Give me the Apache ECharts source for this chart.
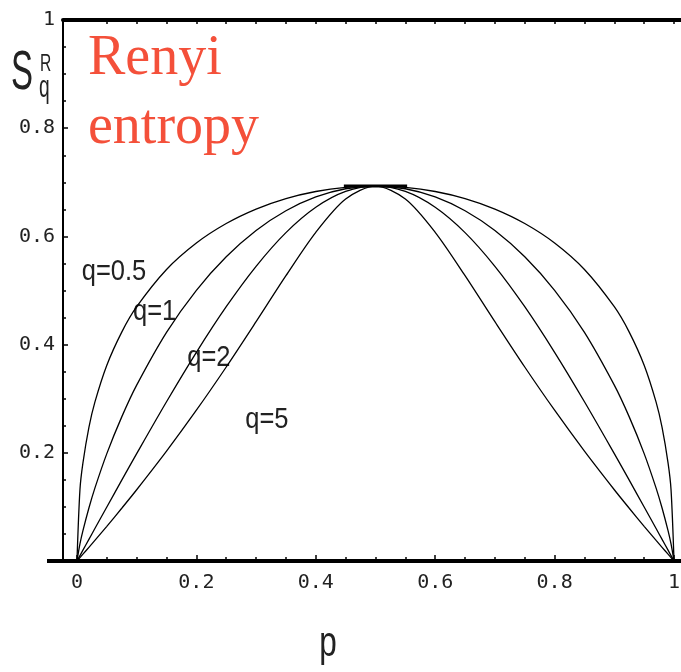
<!DOCTYPE html>
<html>
<head>
<meta charset="utf-8">
<script src="https://cdn.jsdelivr.net/npm/echarts@6/dist/echarts.min.js"></script>
<style>
  html, body { margin: 0; padding: 0; background: #fff; }
  #container { width: 681px; height: 672px; }
</style>
</head>
<body>
<div id="container"></div>
<script>
// p values (shared by every curve)
var pValues = [0, 0.005, 0.01, 0.02, 0.03, 0.05, 0.075, 0.1, 0.15, 0.2, 0.25, 0.3, 0.35, 0.4, 0.45, 0.5,
    0.55, 0.6, 0.65, 0.7, 0.75, 0.8, 0.85, 0.9, 0.925, 0.95, 0.97, 0.98, 0.99, 0.995, 1];

// S_q^R
var sHalf = [0, 0.132, 0.1815, 0.2469, 0.2936, 0.3618, 0.4231, 0.47, 0.5389, 0.5878, 0.6238, 0.6505, 0.6699, 0.683, 0.6906, 0.6931,
    0.6906, 0.683, 0.6699, 0.6505, 0.6238, 0.5878, 0.5389, 0.47, 0.4231, 0.3618, 0.2936, 0.2469, 0.1815, 0.132, 0];
var sOne = [0, 0.0315, 0.056, 0.098, 0.1347, 0.1985, 0.2664, 0.3251, 0.4227, 0.5004, 0.5623, 0.6109, 0.6474, 0.673, 0.6881, 0.6931,
    0.6881, 0.673, 0.6474, 0.6109, 0.5623, 0.5004, 0.4227, 0.3251, 0.2664, 0.1985, 0.1347, 0.098, 0.056, 0.0315, 0];
var sTwo = [0, 0.01, 0.02, 0.04, 0.06, 0.0998, 0.1494, 0.1985, 0.2944, 0.3857, 0.47, 0.5447, 0.607, 0.6539, 0.6832, 0.6931,
    0.6832, 0.6539, 0.607, 0.5447, 0.47, 0.3857, 0.2944, 0.1985, 0.1494, 0.0998, 0.06, 0.04, 0.02, 0.01, 0];
var sFive = [0, 0.0063, 0.0126, 0.0253, 0.0381, 0.0641, 0.0975, 0.1317, 0.2031, 0.2787, 0.3586, 0.4423, 0.5274, 0.6076, 0.6692, 0.6931,
    0.6692, 0.6076, 0.5274, 0.4423, 0.3586, 0.2787, 0.2031, 0.1317, 0.0975, 0.0641, 0.0381, 0.0253, 0.0126, 0.0063, 0];

// the thick flat bit at the top
var peakP = [0.447, 0.553];
var peakS = [0.6931, 0.6931];

// tick positions
var xMajorTicks = [0, 0.2, 0.4, 0.6, 0.8, 1];
var xMinorTicks = [0.05, 0.1, 0.15, 0.25, 0.3, 0.35, 0.45, 0.5, 0.55, 0.65, 0.7, 0.75, 0.85, 0.9, 0.95];
var xTopTicks = [0.05, 0.1, 0.15, 0.2, 0.25, 0.3, 0.35, 0.4, 0.45, 0.5, 0.55, 0.6, 0.65, 0.7, 0.75, 0.8, 0.85, 0.9, 0.95, 1];

// curve labels (data coordinates)
var curveLabels = ['q=0.5', 'q=1', 'q=2', 'q=5'];
var labelP = [0.062, 0.130, 0.221, 0.318];
var labelS = [0.535, 0.461, 0.376, 0.261];

function pairs(xs, ys) {
    return xs.map(function (x, i) { return [x, ys[i]]; });
}

var xMin = -0.0234, xMax = 1.0117;
var monoFont = '"DejaVu Sans Mono", monospace';

var chart = echarts.init(document.getElementById('container'));

function curve(name, values) {
    return {
        name: name,
        type: 'line',
        xAxisIndex: 0,
        data: pairs(pValues, values),
        showSymbol: false,
        smooth: 0.3,
        lineStyle: { color: '#000', width: 1.3 },
        silent: true
    };
}

var option = {
    animation: false,
    backgroundColor: '#fff',
    grid: { left: 63, right: 0, top: 20, bottom: 111, outerBoundsMode: 'none' },
    xAxis: [
        {
            type: 'value', min: xMin, max: xMax, position: 'bottom',
            axisLine: { onZero: false, lineStyle: { color: '#000', width: 4 } },
            axisTick: { inside: true, length: 6, customValues: xMajorTicks, lineStyle: { color: '#000', width: 1.5 } },
            axisLabel: {
                customValues: xMajorTicks, margin: 12, color: '#222', fontFamily: monoFont, fontSize: 20,
                formatter: function (v) { return String(v); }
            },
            splitLine: { show: false }
        },
        {
            type: 'value', min: xMin, max: xMax, position: 'bottom',
            axisLine: { show: false, onZero: false },
            axisTick: { inside: true, length: 4, customValues: xMinorTicks, lineStyle: { color: '#000', width: 1.5 } },
            axisLabel: { show: false },
            splitLine: { show: false }
        },
        {
            type: 'value', min: xMin, max: xMax, position: 'top',
            axisLine: { onZero: false, lineStyle: { color: '#000', width: 4 } },
            axisTick: { inside: true, length: 4, customValues: xTopTicks, lineStyle: { color: '#000', width: 1.5 } },
            axisLabel: { show: false },
            splitLine: { show: false }
        }
    ],
    yAxis: {
        type: 'value', min: 0, max: 1, interval: 0.2,
        axisLine: { onZero: false, lineStyle: { color: '#000', width: 2 } },
        axisTick: { inside: true, length: 5, lineStyle: { color: '#000', width: 1.5 } },
        minorTick: { show: true, splitNumber: 4, length: 3, lineStyle: { color: '#000', width: 1.5 } },
        axisLabel: {
            margin: 8, color: '#222', fontFamily: monoFont, fontSize: 20,
            formatter: function (v) { return v === 0 ? '' : String(v); }
        },
        splitLine: { show: false }
    },
    series: [
        curve('q=0.5', sHalf),
        curve('q=1', sOne),
        curve('q=2', sTwo),
        curve('q=5', sFive),
        {
            name: 'peak', type: 'line', data: pairs(peakP, peakS), showSymbol: false,
            lineStyle: { color: '#000', width: 3 }, silent: true
        }
    ]
};

chart.setOption(option);

// texts
var narrow = '"Liberation Sans", Arial, sans-serif';
var graphics = [
    // bottom axis runs a bit past the left axis
    { type: 'line', shape: { x1: 47, y1: 561, x2: 64, y2: 561 }, style: { stroke: '#000', lineWidth: 4 } },
    { type: 'text', x: 88, y: 59, style: { text: 'Renyi', font: '56px "Liberation Serif", "Times New Roman", serif', fill: '#f4503a', textAlign: 'left', textVerticalAlign: 'middle' } },
    { type: 'text', x: 88, y: 128, style: { text: 'entropy', font: '56px "Liberation Serif", "Times New Roman", serif', fill: '#f4503a', textAlign: 'left', textVerticalAlign: 'middle' } },
    { type: 'text', x: 11, y: 74, scaleX: 0.6, style: { text: 'S', font: '55px ' + narrow, fill: '#222', textAlign: 'left', textVerticalAlign: 'middle' } },
    { type: 'text', x: 40, y: 64, scaleX: 0.65, style: { text: 'R', font: '24px ' + narrow, fill: '#222', textAlign: 'left', textVerticalAlign: 'middle' } },
    { type: 'text', x: 39, y: 88, scaleX: 0.6, style: { text: 'q', font: '32px ' + narrow, fill: '#222', textAlign: 'left', textVerticalAlign: 'middle' } },
    { type: 'text', x: 328, y: 644, scaleX: 0.75, style: { text: 'p', font: '42px ' + narrow, fill: '#222', textAlign: 'center', textVerticalAlign: 'middle' } }
];
curveLabels.forEach(function (t, i) {
    var pt = chart.convertToPixel({ xAxisIndex: 0, yAxisIndex: 0 }, [labelP[i], labelS[i]]);
    graphics.push({
        type: 'text', x: pt[0], y: pt[1], scaleX: 0.85,
        style: { text: t, font: '30px ' + narrow, fill: '#222', textAlign: 'center', textVerticalAlign: 'middle' }
    });
});
chart.setOption({ graphic: graphics });
</script>
</body>
</html>
